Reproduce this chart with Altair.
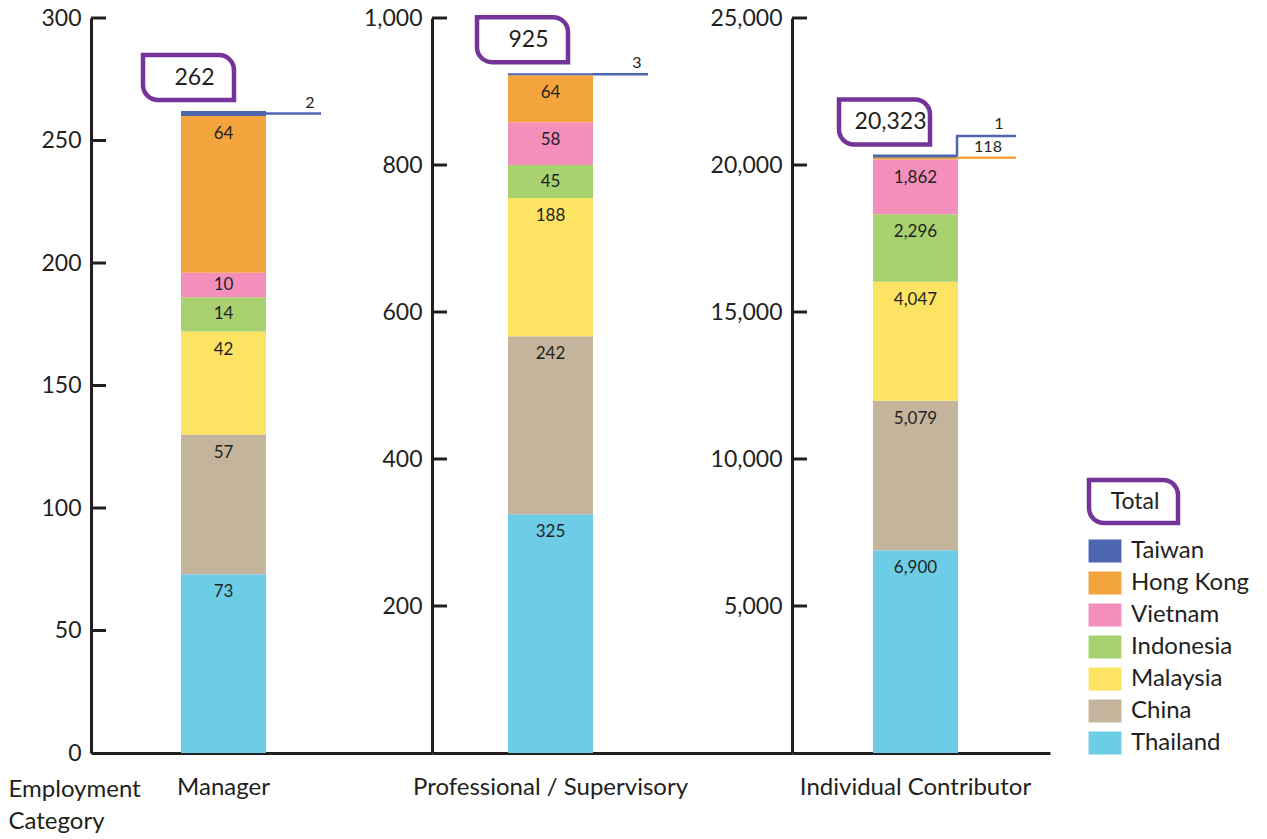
import altair as alt
import pandas as pd

countries = ["Taiwan", "Hong Kong", "Vietnam", "Indonesia", "Malaysia", "China", "Thailand"]
colors = ["#4c66b0", "#f4a43c", "#f48fbb", "#a8d170", "#fce462", "#c4b49b", "#6dcde6"]
categories = ["Manager", "Professional / Supervisory", "Individual Contributor"]
manager = [2, 64, 10, 14, 42, 57, 73]
professional = [3, 64, 58, 45, 188, 242, 325]
individual = [1, 118, 1862, 2296, 4047, 5079, 6900]
totals = [262, 925, 20323]
total_labels = ["262", "925", "20,323"]
y_max = [300, 1000, 25000]
y_ticks = [[0, 50, 100, 150, 200, 250, 300],
           [200, 400, 600, 800, 1000],
           [5000, 10000, 15000, 20000, 25000]]

FONT = "Lato"
INK = "#231f20"
PURPLE = "#76349a"
H = 735
panel_w = [341, 360, 258]
bar_left = [90, 76, 81]
bar_w = 85
box_dx = [-38, -31, -34]
box_w = 91
FS = 24


def panel(i, values):
    cat = categories[i]
    M = y_max[i]
    W = panel_w[i]
    u = M / H  # data units per pixel
    rows = []
    acc = 0
    for c, v in reversed(list(zip(countries, values))):
        rows.append({"cat": cat, "country": c, "v": v, "y0": acc, "y1": acc + v})
        acc += v
    df = pd.DataFrame(rows)
    hpx = df["v"] / u
    off = (hpx / 2).where(hpx < 36, 18)
    df["ly"] = df["y1"] - off * u
    df["txt"] = df["v"].map(lambda x: f"{x:,}")

    pad_inner = (W - 3 * bar_w) / (W - bar_w)
    align = bar_left[i] / (W - bar_w)
    xscale = alt.Scale(domain=[cat], paddingInner=pad_inner, paddingOuter=1, align=align)
    yscale = alt.Scale(domain=[0, M], nice=False, zero=True)

    if i == 0:
        xaxis = alt.Axis(domainColor=INK, domainWidth=3, ticks=False, labelAngle=0,
                         labelFontSize=FS, labelFont=FONT, labelColor=INK, labelPadding=22,
                         labelLimit=400,
                         title=["Employment", "Category"], titleFont=FONT, titleFontSize=FS,
                         titleFontWeight="normal", titleColor=INK, titleAnchor="start",
                         titleAlign="left", titleX=-83, titleY=24, titleBaseline="top",
                         titleLineHeight=32)
    else:
        xaxis = alt.Axis(domainColor=INK, domainWidth=3, ticks=False, labelAngle=0,
                         labelFontSize=FS, labelFont=FONT, labelColor=INK, labelPadding=22,
                         labelLimit=400, title=None)
    yaxis = alt.Axis(values=y_ticks[i], format=",.0f", domainColor=INK, domainWidth=3,
                     ticks=False, grid=False, labelFontSize=FS - 1, labelFont=FONT,
                     labelColor=INK, labelPadding=10, title=None)

    legend = alt.Legend(title=None, orient="none", legendX=1002, legendY=521,
                        symbolType="M-1.43,-1H1.43V1H-1.43Z", symbolSize=529,
                        symbolStrokeWidth=0, symbolOpacity=1, labelFontSize=FS,
                        labelFont=FONT, labelColor=INK, rowPadding=8, labelOffset=14)

    X = lambda f: alt.X(f, scale=xscale, axis=xaxis, sort=None)
    Y = lambda f: alt.Y(f, scale=yscale, axis=yaxis)

    bars = alt.Chart(df).mark_bar().encode(
        x=X("cat:N"),
        y=Y("y0:Q"),
        y2="y1:Q",
        color=alt.Color("country:N", scale=alt.Scale(domain=countries, range=colors),
                        legend=legend),
    )

    big = df[df["v"] / u >= 12]
    seg_labels = alt.Chart(big).mark_text(font=FONT, fontSize=17, color=INK,
                                          baseline="middle").encode(
        x=X("cat:N"), y=Y("ly:Q"), text="txt:N",
    )

    ticks_df = pd.DataFrame({"t": [t for t in y_ticks[i] if t > 0]})
    tick_rules = alt.Chart(ticks_df).mark_rule(color=INK, strokeWidth=3).encode(
        y=Y("t:Q"), x=alt.value(0), x2=alt.value(15),
    )

    tot_df = pd.DataFrame({"total": [totals[i]], "label": [total_labels[i]]})
    bx0 = bar_left[i] + box_dx[i]
    box = alt.Chart(tot_df).mark_rect(
        fill="white", stroke=PURPLE, strokeWidth=4.5,
        cornerRadiusTopRight=15, cornerRadiusBottomLeft=15,
        yOffset=-11, y2Offset=-56,
    ).encode(
        x=alt.value(bx0), x2=alt.value(bx0 + box_w),
        y=Y("total:Q"), y2="total:Q",
    )
    box_txt = alt.Chart(tot_df).mark_text(font=FONT, fontSize=23, color=INK,
                                          baseline="middle", dy=-33.5).encode(
        x=alt.value(bx0 + box_w / 2 + 6), y=Y("total:Q"), text="label:N",
    )

    layers = [bars, seg_labels, tick_rules, box, box_txt]
    br = bar_left[i] + bar_w
    if i < 2:
        tw = df[df["country"] == "Taiwan"].iloc[0]
        lead_df = pd.DataFrame({"y": [(tw["y0"] + tw["y1"]) / 2], "txt": [tw["txt"]]})
        lead = alt.Chart(lead_df).mark_rule(color=colors[0], strokeWidth=2.5).encode(
            y=Y("y:Q"), x=alt.value(br), x2=alt.value(br + 55),
        )
        lead_txt = alt.Chart(lead_df).mark_text(font=FONT, fontSize=16, color=INK,
                                                baseline="bottom", dy=-3).encode(
            y=Y("y:Q"), x=alt.value(br + 44), text="txt:N",
        )
        layers += [lead, lead_txt]
    else:
        tw = df[df["country"] == "Taiwan"].iloc[0]
        hk = df[df["country"] == "Hong Kong"].iloc[0]
        up = 20 * u
        top = tw["y1"]
        d_tw = pd.DataFrame({"y": [top], "yu": [top + up], "txt": [tw["txt"]]})
        d_hk = pd.DataFrame({"y": [(hk["y0"] + hk["y1"]) / 2], "ym": [top + up / 2],
                             "txt": [hk["txt"]]})
        tw_top = alt.Chart(d_tw).mark_rule(color=colors[0], strokeWidth=3).encode(
            y=Y("y:Q"), x=alt.value(bar_left[i]), x2=alt.value(br - 1),
        )
        tw_vert = alt.Chart(d_tw).mark_rule(color=colors[0], strokeWidth=2.5).encode(
            y=Y("y:Q"), y2="yu:Q", x=alt.value(br - 1),
        )
        tw_h = alt.Chart(d_tw).mark_rule(color=colors[0], strokeWidth=2.5).encode(
            y=Y("yu:Q"), x=alt.value(br - 2), x2=alt.value(br + 58),
        )
        tw_txt = alt.Chart(d_tw).mark_text(font=FONT, fontSize=16, color=INK,
                                           baseline="bottom", dy=-4).encode(
            y=Y("yu:Q"), x=alt.value(br + 41), text="txt:N",
        )
        hk_h = alt.Chart(d_hk).mark_rule(color=colors[1], strokeWidth=2.5).encode(
            y=Y("y:Q"), x=alt.value(br), x2=alt.value(br + 58),
        )
        hk_txt = alt.Chart(d_hk).mark_text(font=FONT, fontSize=16, color=INK,
                                           baseline="middle", dy=1).encode(
            y=Y("ym:Q"), x=alt.value(br + 30), text="txt:N",
        )
        leg_df = pd.DataFrame({"label": ["Total"]})
        leg_box = alt.Chart(leg_df).mark_rect(
            fill="white", stroke=PURPLE, strokeWidth=4.5,
            cornerRadiusTopRight=15, cornerRadiusBottomLeft=15,
        ).encode(x=alt.value(297), x2=alt.value(386), y=alt.value(462), y2=alt.value(505))
        leg_txt = alt.Chart(leg_df).mark_text(font=FONT, fontSize=23, color=INK,
                                              baseline="middle").encode(
            x=alt.value(343), y=alt.value(484), text="label:N")
        layers += [tw_top, tw_vert, tw_h, tw_txt, hk_h, hk_txt, leg_box, leg_txt]

    return alt.layer(*layers).properties(width=W, height=H)


p1 = panel(0, manager)
p2 = panel(1, professional)
p3 = panel(2, individual)

chart = alt.hconcat(p1, p2, p3, spacing=0, bounds="flush").properties(
    padding={"left": 8, "top": 7, "right": 5, "bottom": 5}
).configure_view(stroke=None)

chart.save("out.html", embed_options={"renderer": "svg", "actions": False})
